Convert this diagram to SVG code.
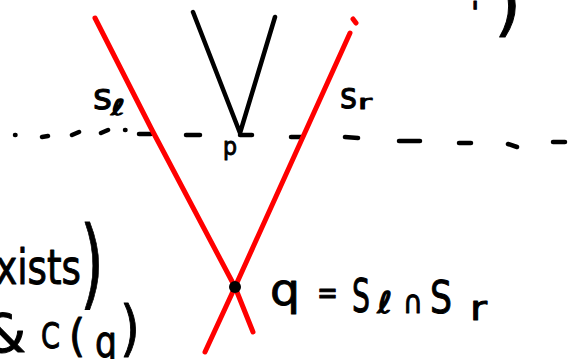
<svg xmlns="http://www.w3.org/2000/svg" width="568" height="359" viewBox="0 0 568 359">
<style>
.red{fill:none;stroke:#ff0000;stroke-width:5;stroke-linecap:round;stroke-linejoin:round}
.ink{fill:none;stroke:#000;stroke-width:4.5;stroke-linecap:round;stroke-linejoin:round}
.dash{fill:none;stroke:#000;stroke-width:4.5;stroke-linecap:round}
text{font-family:"DejaVu Sans","Liberation Sans",sans-serif;fill:#000;stroke:#000;stroke-width:1;stroke-linejoin:round}
</style>
<rect width="568" height="359" fill="#fff"/>
<g id="baseline-dashes">
<path class="dash" d="M15,135h0.5 M42,137L48,136 M72,135L79,132 M101,133L108,130 M125,130h0.5 M139,134L151,134 M186,135L200,135 M240,135L252,135 M291,137L302,137 M345,137L358,138 M399,141L420,141 M459,143L471,143 M508,144L517,147 M553,142L565,142"/>
</g>
<g id="cone">
<path class="ink" d="M193,12L240,133L275,17"/>
</g>
<g id="rays">
<path id="s-l" class="red" d="M95,18L152,130L235,287L253,332"/>
<path id="s-r" class="red" d="M353,19L356,23 M350,33L235,287L205,352"/>
</g>
<g id="q-point">
<circle cx="235" cy="287" r="6" fill="#000"/>
</g>
<g id="labels">
<text x="93" y="109" font-size="36" textLength="19" lengthAdjust="spacingAndGlyphs">s</text>
<text x="111" y="115" font-size="22" textLength="14" lengthAdjust="spacingAndGlyphs">ℓ</text>
<text x="340" y="108" font-size="36" textLength="17" lengthAdjust="spacingAndGlyphs">s</text>
<text x="358" y="109" font-size="20" textLength="14" lengthAdjust="spacingAndGlyphs">r</text>
<text x="223" y="155" font-size="24" textLength="14" lengthAdjust="spacingAndGlyphs">p</text>
</g>
<g id="equation">
<text x="270" y="305" font-size="44" textLength="30" lengthAdjust="spacingAndGlyphs">q</text>
<text x="317" y="304" font-size="32" textLength="21" lengthAdjust="spacingAndGlyphs">=</text>
<text x="352" y="312" font-size="46" textLength="18" lengthAdjust="spacingAndGlyphs">S</text>
<text x="377" y="313" font-size="30" textLength="15" lengthAdjust="spacingAndGlyphs">ℓ</text>
<text x="403" y="313" font-size="32" textLength="20" lengthAdjust="spacingAndGlyphs">∩</text>
<text x="430" y="313" font-size="44" textLength="22" lengthAdjust="spacingAndGlyphs">S</text>
<text x="470" y="320" font-size="34" textLength="17" lengthAdjust="spacingAndGlyphs">r</text>
</g>
<g id="left-text">
<text x="-27" y="284" font-size="48" textLength="108" lengthAdjust="spacingAndGlyphs">exists</text>
<text x="80" y="297" font-size="98" textLength="24" lengthAdjust="spacingAndGlyphs">)</text>
<text x="-16" y="352" font-size="54">&amp;</text>
<text x="41" y="348" font-size="36" textLength="19" lengthAdjust="spacingAndGlyphs">C</text>
<text x="69" y="351" font-size="45" textLength="16" lengthAdjust="spacingAndGlyphs">(</text>
<text x="95" y="357" font-size="44" textLength="22" lengthAdjust="spacingAndGlyphs">q</text>
<text x="120" y="349" font-size="61" textLength="20" lengthAdjust="spacingAndGlyphs">)</text>
</g>
<g id="top-right-text">
<text x="471" y="23" font-size="30">'</text>
<text x="494" y="28" font-size="70">)</text>
</g>
</svg>
